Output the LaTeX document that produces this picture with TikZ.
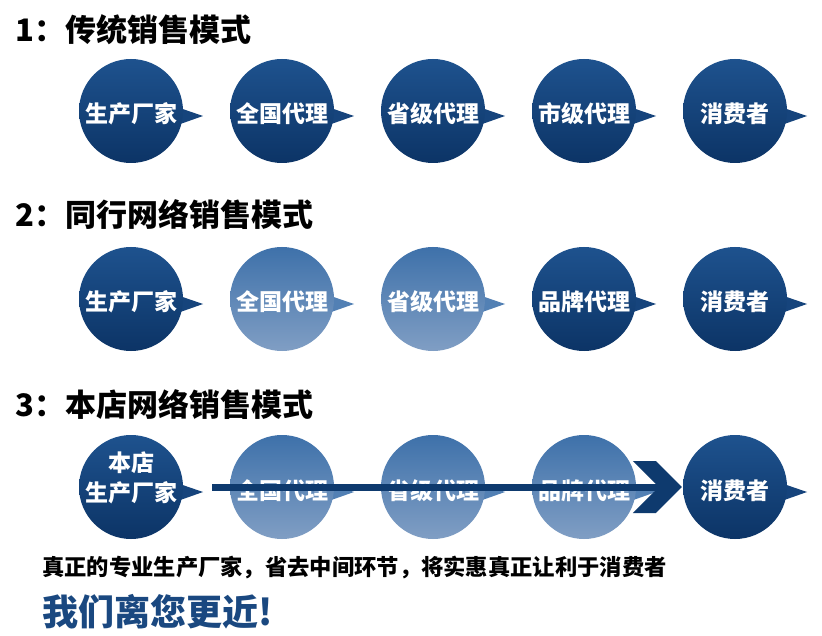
\documentclass[tikz,border=0pt]{standalone}
\usepackage{fontspec}
\newfontfamily\cjk{Noto Sans CJK SC}
\usetikzlibrary{positioning}
\definecolor{NavyTop}{RGB}{30,82,142}
\definecolor{NavyMid}{RGB}{22,68,124}
\definecolor{NavyBot}{RGB}{12,52,102}
\definecolor{PaleTop}{RGB}{62,113,170}
\definecolor{PaleMid}{RGB}{82,128,180}
\definecolor{PaleBot}{RGB}{128,158,196}
\definecolor{FlowNavy}{RGB}{14,58,110}
\definecolor{SloganBlue}{RGB}{26,72,128}

\begin{document}
\begin{tikzpicture}[x=1pt,y=-1pt,
    ball/.style={circle, minimum size=104pt, inner sep=0pt, text=white,
      font=\cjk\bfseries\fontsize{23}{30}\selectfont, text height=28pt, text depth=4pt},
    balltext/.style={inner sep=0pt, text=white, align=center, font=\cjk\bfseries\fontsize{23}{30}\selectfont},
    heading/.style={anchor=west, inner sep=0pt, font=\cjk\bfseries\fontsize{31}{34}\selectfont}]
    \useasboundingbox[fill=white] (0,0) rectangle (822,636);

    % 1: traditional chain
    \node[heading] (h1) at (15,30) {1：传统销售模式};
    \foreach \i/\c/\txt in {0/Navy/生产厂家, 1/Navy/全国代理, 2/Navy/省级代理, 3/Navy/市级代理, 4/Navy/消费者} {
      \fill[\c Mid, shift={(131+151*\i,111)}] (40,-6) -- (72,5) -- (38,17) -- cycle;
      \node[ball, top color=\c Top, bottom color=\c Bot] (r1\i) at (131+151*\i,111) {\txt};
    }

    % 2: trade network
    \node[heading] (h2) at (15,215) {2：同行网络销售模式};
    \foreach \i/\c/\txt in {0/Navy/生产厂家, 1/Pale/全国代理, 2/Pale/省级代理, 3/Navy/品牌代理, 4/Navy/消费者} {
      \fill[\c Mid, shift={(131+151*\i,299)}] (40,-6) -- (72,5) -- (38,17) -- cycle;
      \node[ball, top color=\c Top, bottom color=\c Bot] (r2\i) at (131+151*\i,299) {\txt};
    }

    % 3: own shop network
    \node[heading] (h3) at (15,405) {3：本店网络销售模式};
    \fill[NavyMid, shift={(131,487)}] (40,-6) -- (72,5) -- (38,17) -- cycle;
    \node[ball, top color=NavyTop, bottom color=NavyBot] (r30) at (131,487) {};
    \node[balltext] (r30txt) at (131,478) {本店\\生产厂家};
    \foreach \i/\c/\txt in {1/Pale/全国代理, 2/Pale/省级代理, 3/Pale/品牌代理, 4/Navy/消费者} {
      \fill[\c Mid, shift={(131+151*\i,487)}] (40,-6) -- (72,5) -- (38,17) -- cycle;
      \node[ball, top color=\c Top, bottom color=\c Bot] (r3\i) at (131+151*\i,487) {\txt};
    }
    \coordinate (flowstart) at ([xshift=81pt]r30.center);
    \draw[FlowNavy, line width=7pt] (flowstart) -- ([xshift=-24pt]r34.west);
    \fill[FlowNavy, shift={(r34.west)}] (-50,-26) -- (-27,-26) -- (-1,0) -- (-27,26) -- (-50,26) -- (-24,0) -- cycle;

    % bottom lines
    \node[anchor=west, inner sep=0pt, font=\cjk\bfseries\fontsize{22.3}{26}\selectfont] (note) at (42,568)
      {真正的专业生产厂家，省去中间环节，将实惠真正让利于消费者};
    \node[anchor=west, inner sep=0pt, text=SloganBlue, font=\cjk\bfseries\fontsize{36}{40}\selectfont] (slogan) at (42,612)
      {我们离您更近!};
\end{tikzpicture}
\end{document}
